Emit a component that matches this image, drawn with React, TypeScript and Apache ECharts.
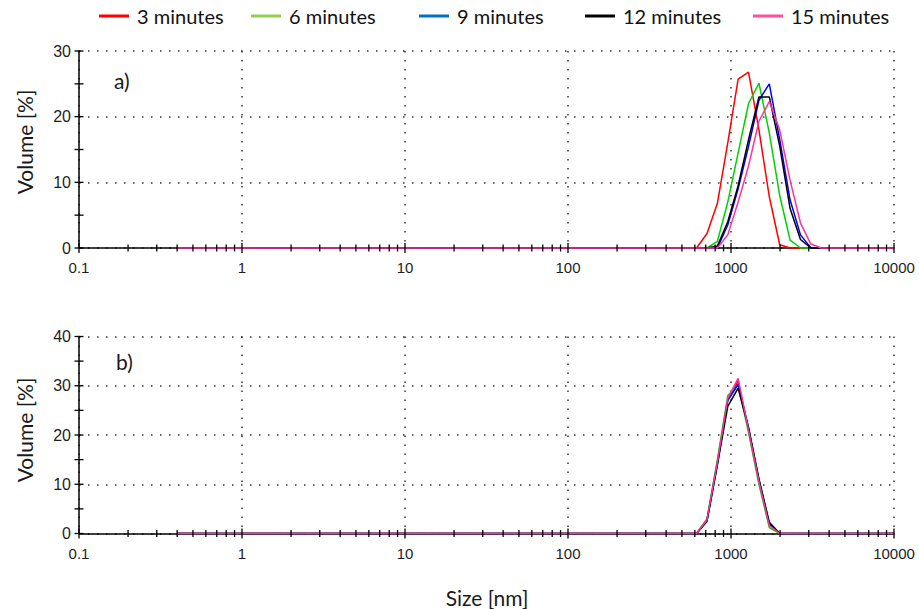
import React, { useEffect, useRef } from "react";
import * as echarts from "echarts";

// Size bins (nm) where the distributions are non-zero (Zetasizer classes)
const sizeBins = [615.1, 712.4, 825.0, 955.4, 1106, 1281, 1484, 1718, 1990, 2305, 2669, 3091, 3580];
const sizeMin = 0.4;
const sizeMax = 10000;

const seriesNames = ["3 minutes", "6 minutes", "9 minutes", "12 minutes", "15 minutes"];
const lineColors = ["#ff0000", "#00d000", "#0000ff", "#000000", "#ff3399"];
const legendColors = ["#ff0000", "#92d050", "#0070c0", "#000000", "#ff4fa0"];

// panel a)
const a3 = [0, 2.2, 6.8, 16, 25.7, 26.8, 18, 7.8, 0.5, 0, 0, 0, 0];
const a6 = [0, 0, 1, 7, 14.5, 22, 25.1, 17.5, 8, 1.2, 0, 0, 0];
const a9 = [0, 0, 0, 3.5, 9, 15.5, 22.5, 25, 16.5, 7.3, 2, 0, 0];
const a12 = [0, 0, 0.3, 4, 9.5, 16.5, 23, 23, 15.5, 6, 1.3, 0, 0];
const a15 = [0, 0, 0, 2, 7, 12.5, 19.3, 22.3, 18, 10.3, 3.8, 0.6, 0];

// panel b)
const b3 = [0, 2.8, 14.5, 27.2, 31.0, 21.0, 10.5, 1.8, 0, 0, 0, 0, 0];
const b6 = [0, 3.0, 15, 28, 30.2, 20.5, 10, 1.2, 0, 0, 0, 0, 0];
const b9 = [0, 2.6, 14, 27, 30.3, 21.5, 11, 2.0, 0, 0, 0, 0, 0];
const b12 = [0, 2.5, 14, 25.8, 29.5, 21.5, 11, 2.3, 0, 0, 0, 0, 0];
const b15 = [0, 2.8, 14.5, 27.5, 31.5, 21, 10.5, 1.6, 0, 0, 0, 0, 0];

// axis ticks
const xMajorTicks = [0.1, 1, 10, 100, 1000, 10000];
const xMinorMultipliers = [2, 3, 4, 5, 6, 7, 8, 9];
const yTicksA = [0, 5, 10, 15, 20, 25, 30];
const yTicksB = [0, 5, 10, 15, 20, 25, 30, 35, 40];

const LABEL_FONT = "'Liberation Sans', Arial, sans-serif";
const TITLE_FONT = "Lato, 'Open Sans', sans-serif";

function buildSeriesData(vals: number[]) {
  return [[sizeMin, 0], ...sizeBins.map((b, i) => [b, vals[i]]), [sizeMax, 0]];
}

function tickData(yTicks: number[]) {
  const items: number[][] = [];
  xMajorTicks.forEach((v) => items.push([v, 0, 1]));
  xMajorTicks.slice(0, -1).forEach((d) =>
    xMinorMultipliers.forEach((m) => items.push([Number((d * m).toPrecision(6)), 0, 0]))
  );
  yTicks.forEach((v) => items.push([0.1, v, 2]));
  return items;
}

export default function App() {
  const ref = useRef<HTMLDivElement>(null);
  useEffect(() => {
    if (!ref.current) return;
    const chart = echarts.init(ref.current, undefined, { renderer: "svg" });
    const gridLeft = 79;
    const gridWidth = 815;
    const dotted = { type: [1.5, 7.5] as any, color: "#333", width: 1.5 };

    const makeX = (gridIndex: number) => ({
      type: "log",
      logBase: 10,
      gridIndex,
      min: 0.1,
      max: 10000,
      axisLine: { show: true, onZero: false, lineStyle: { color: "#000", width: 1.5 } },
      axisTick: { show: false },
      axisLabel: {
        fontSize: 15,
        fontFamily: LABEL_FONT,
        color: "#1e1e1e",
        margin: 12,
        formatter: (v: number) => String(Number(v.toPrecision(6))),
      },
      splitLine: { show: true, lineStyle: dotted },
    });
    const makeY = (gridIndex: number, max: number) => ({
      type: "value",
      gridIndex,
      min: 0,
      max,
      interval: 10,
      axisLine: { show: true, lineStyle: { color: "#000", width: 1.5 } },
      axisTick: { show: false },
      axisLabel: { fontSize: 16, fontFamily: LABEL_FONT, color: "#1e1e1e", margin: 8 },
      splitLine: { show: true, lineStyle: dotted },
    });

    const dataA = [a3, a6, a9, a12, a15];
    const dataB = [b3, b6, b9, b12, b15];

    const lineSeries: any[] = [];
    [dataA, dataB].forEach((set, gi) => {
      set.forEach((vals, si) => {
        lineSeries.push({
          type: "line",
          name: seriesNames[si],
          xAxisIndex: gi,
          yAxisIndex: gi,
          data: buildSeriesData(vals),
          showSymbol: false,
          clip: false,
          lineStyle: { color: lineColors[si], width: 1.5 },
          itemStyle: { color: lineColors[si] },
          z: 2 + si * 0.01,
        });
      });
    });

    const renderTick = (params: any, api: any) => {
      const kind = api.value(2);
      const p = api.coord([api.value(0), api.value(1)]);
      let shape;
      if (kind === 2) shape = { x1: p[0] - 4.5, y1: p[1], x2: p[0] + 4.5, y2: p[1] };
      else if (kind === 1) shape = { x1: p[0], y1: p[1] - 5, x2: p[0], y2: p[1] + 5 };
      else shape = { x1: p[0], y1: p[1] - 3.5, x2: p[0], y2: p[1] + 3.5 };
      return { type: "line", shape, style: { stroke: "#000", lineWidth: 1.3 } };
    };

    const tickSeries = [yTicksA, yTicksB].map((yt, gi) => ({
      type: "custom",
      xAxisIndex: gi,
      yAxisIndex: gi,
      clip: false,
      silent: true,
      z: 5,
      data: tickData(yt),
      renderItem: renderTick,
      encode: { x: 0, y: 1 },
    }));

    const legendLefts = [94, 246, 414, 580, 748];
    const legends = seriesNames.map((n, i) => ({
      data: [{ name: n, itemStyle: { color: legendColors[i] } }],
      left: legendLefts[i],
      top: 1,
      icon: "rect",
      itemWidth: 30,
      itemHeight: 3,
      selectedMode: false,
      textStyle: { fontSize: 20, fontFamily: TITLE_FONT, color: "#111", padding: [0, 0, 0, 3] },
    }));

    const titleStyle = { fontSize: 21, fontFamily: TITLE_FONT, fill: "#1a1a1a" };

    chart.setOption({
      animation: false,
      backgroundColor: "#ffffff",
      legend: legends,
      grid: [
        { left: gridLeft, width: gridWidth, top: 51, height: 197 },
        { left: gridLeft, width: gridWidth, top: 336.5, height: 197 },
      ],
      xAxis: [makeX(0), makeX(1)],
      yAxis: [makeY(0, 30), makeY(1, 40)],
      series: [...lineSeries, ...tickSeries],
      graphic: [
        {
          type: "text",
          x: 24,
          y: 142,
          rotation: Math.PI / 2,
          style: { text: "Volume [%]", align: "center", verticalAlign: "middle", ...titleStyle },
        },
        {
          type: "text",
          x: 24,
          y: 430,
          rotation: Math.PI / 2,
          style: { text: "Volume [%]", align: "center", verticalAlign: "middle", ...titleStyle },
        },
        {
          type: "text",
          x: 487,
          y: 597,
          style: { text: "Size [nm]", align: "center", verticalAlign: "middle", ...titleStyle },
        },
        {
          type: "text",
          x: 114,
          y: 80,
          style: { text: "a)", align: "left", verticalAlign: "middle", ...titleStyle },
        },
        {
          type: "text",
          x: 116,
          y: 361,
          style: { text: "b)", align: "left", verticalAlign: "middle", ...titleStyle },
        },
      ],
    });
    return () => chart.dispose();
  }, []);
  return (
    <div
      ref={ref}
      style={{ position: "absolute", left: 0, top: 0, width: 919, height: 609, background: "#fff" }}
    />
  );
}
